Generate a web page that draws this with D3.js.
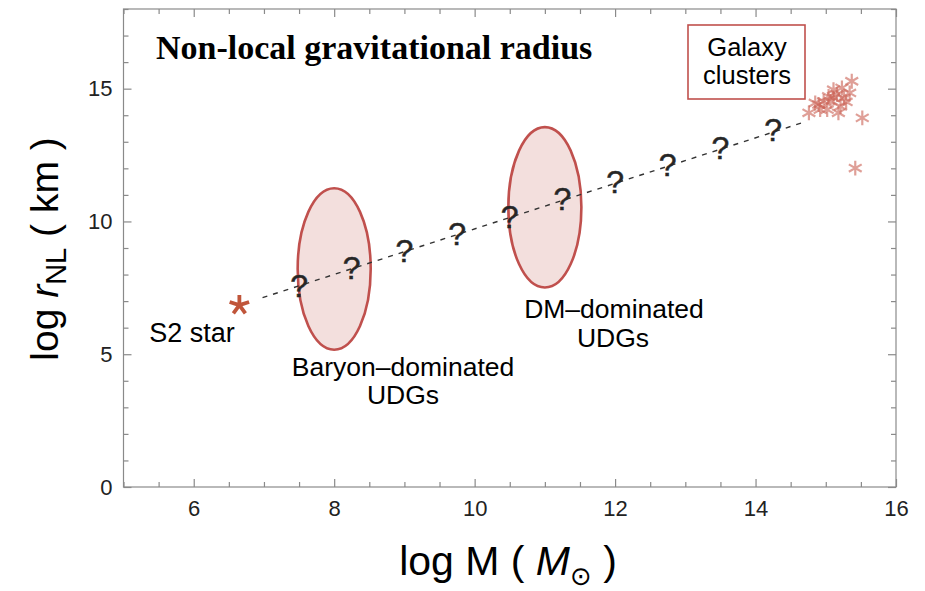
<!DOCTYPE html>
<html><head><meta charset="utf-8">
<script src="https://cdn.jsdelivr.net/npm/d3@7"></script>
<style>body{margin:0;background:#fff;} svg{display:block;}</style>
</head><body>
<svg id="chart" width="925" height="591"></svg>
<script>
// ---------- data ----------
const xTickValues = [6, 8, 10, 12, 14, 16];
const yTickValues = [0, 5, 10, 15];
const xDomain = [5, 16];
const yDomain = [0, 18];

const s2Mass = [6.65];
const s2Radius = [6.85];

const udgMass   = [7.5, 8.25, 9.0, 9.75, 10.5, 11.25, 12.0, 12.75, 13.5, 14.25];
const udgRadius = [7.6, 8.25, 8.9, 9.55, 10.2, 10.85, 11.5, 12.15, 12.8, 13.45];

const trendMass   = [6.98, 14.69];
const trendRadius = [7.13, 13.74];

const clusterMass   = [15.37, 15.34, 15.23, 15.16, 15.11, 15.04, 15.07, 14.97, 14.90, 14.85, 14.92, 15.02, 15.18, 15.21, 14.76, 15.52, 15.42, 15.26, 15.11, 15.29];
const clusterRadius = [15.28, 14.84, 15.03, 14.78, 14.65, 14.71, 14.52, 14.52, 14.40, 14.46, 14.21, 14.21, 14.09, 14.33, 14.09, 13.90, 12.01, 14.65, 14.96, 14.50];

const regionNames = ["Baryon-dominated UDGs", "DM-dominated UDGs"];
const regionMassRange   = [[7.48, 8.52], [10.48, 11.52]];
const regionRadiusRange = [[5.17, 11.25], [7.51, 13.55]];

// ---------- setup ----------
const svg = d3.select("#chart");
const L = 123.5, R = 896, T = 9, B = 487;
const x = d3.scaleLinear().domain(xDomain).range([L, R]);
const y = d3.scaleLinear().domain(yDomain).range([B, T]);
const sans = "'Liberation Sans', Arial, Helvetica, 'DejaVu Sans', sans-serif";
const frameColor = "#8a8a8a";
const red = "#c0504d";

// ---------- regions (ellipses) ----------
svg.append("g").selectAll("ellipse")
  .data(regionNames.map((n, i) => ({n, mx: regionMassRange[i], ry: regionRadiusRange[i]})))
  .join("ellipse")
  .attr("cx", d => x((d.mx[0] + d.mx[1]) / 2))
  .attr("cy", d => y((d.ry[0] + d.ry[1]) / 2))
  .attr("rx", d => (x(d.mx[1]) - x(d.mx[0])) / 2)
  .attr("ry", d => (y(d.ry[0]) - y(d.ry[1])) / 2)
  .attr("fill", "#f3dfdd")
  .attr("stroke", red)
  .attr("stroke-width", 2.6);

// ---------- dashed trend line ----------
const line = d3.line().x(d => x(d[0])).y(d => y(d[1]));
svg.append("path")
  .datum(trendMass.map((m, i) => [m, trendRadius[i]]))
  .attr("d", line)
  .attr("fill", "none")
  .attr("stroke", "#333")
  .attr("stroke-width", 1.4)
  .attr("stroke-dasharray", "5,6");

// ---------- question marks ----------
const qfs = 32;
svg.append("g").selectAll("text")
  .data(udgMass.map((m, i) => [m, udgRadius[i]]))
  .join("text")
  .attr("x", d => x(d[0]))
  .attr("y", d => y(d[1]) + qfs * 0.36)
  .attr("text-anchor", "middle")
  .attr("font-family", sans)
  .attr("font-size", qfs)
  .attr("fill", "#262626")
  .attr("stroke", "#262626")
  .attr("stroke-width", 0.5)
  .text("?");

// ---------- galaxy clusters ----------
const ast = d3.symbol().type(d3.symbolAsterisk).size(155);
svg.append("g").selectAll("path")
  .data(clusterMass.map((m, i) => [m, clusterRadius[i]]))
  .join("path")
  .attr("transform", d => `translate(${x(d[0])},${y(d[1])})`)
  .attr("d", ast)
  .attr("fill", "none")
  .attr("stroke", "#cc6457")
  .attr("stroke-opacity", 0.62)
  .attr("stroke-width", 2.2);

// ---------- S2 star (5-armed asterisk) ----------
const star5 = {
  draw(ctx, size) {
    const r = Math.sqrt(size) * 0.6;
    for (let k = 0; k < 5; k++) {
      const a = -Math.PI / 2 + k * 2 * Math.PI / 5;
      ctx.moveTo(0, 0);
      ctx.lineTo(r * Math.cos(a), r * Math.sin(a));
    }
  }
};
svg.append("g").selectAll("path")
  .data(s2Mass.map((m, i) => [m, s2Radius[i]]))
  .join("path")
  .attr("transform", d => `translate(${x(d[0])},${y(d[1])})`)
  .attr("d", d3.symbol().type(star5).size(290))
  .attr("fill", "none")
  .attr("stroke", "#c0553a")
  .attr("stroke-width", 3.8)
  .attr("stroke-linecap", "butt");

// ---------- frame & axes ----------
svg.append("rect")
  .attr("x", L).attr("y", T).attr("width", R - L).attr("height", B - T)
  .attr("fill", "none").attr("stroke", frameColor).attr("stroke-width", 1.2);

const xMinor = d3.range(5, 16.001, 0.5).filter(v => !xTickValues.includes(v));
const yMinor = d3.range(0, 18.001, 1).filter(v => !yTickValues.includes(v));

function styleAxis(g) {
  g.select(".domain").remove();
  g.selectAll(".tick line").attr("stroke", frameColor).attr("stroke-width", 1.2);
  g.selectAll(".tick text").attr("font-family", sans).attr("font-size", 22).attr("fill", "#222");
}
// bottom
svg.append("g").attr("transform", `translate(0,${B})`)
  .call(d3.axisBottom(x).tickValues(xTickValues).tickSize(-8).tickPadding(13).tickFormat(d3.format("d")))
  .call(styleAxis);
svg.append("g").attr("transform", `translate(0,${B})`)
  .call(d3.axisBottom(x).tickValues(xMinor).tickSize(-5).tickFormat(""))
  .call(styleAxis);
// top
svg.append("g").attr("transform", `translate(0,${T})`)
  .call(d3.axisTop(x).tickValues(xTickValues).tickSize(-8).tickFormat(""))
  .call(styleAxis);
svg.append("g").attr("transform", `translate(0,${T})`)
  .call(d3.axisTop(x).tickValues(xMinor).tickSize(-5).tickFormat(""))
  .call(styleAxis);
// left
svg.append("g").attr("transform", `translate(${L},0)`)
  .call(d3.axisLeft(y).tickValues(yTickValues).tickSize(-8).tickPadding(11).tickFormat(d3.format("d")))
  .call(styleAxis);
svg.append("g").attr("transform", `translate(${L},0)`)
  .call(d3.axisLeft(y).tickValues(yMinor).tickSize(-5).tickFormat(""))
  .call(styleAxis);
// right
svg.append("g").attr("transform", `translate(${R},0)`)
  .call(d3.axisRight(y).tickValues(yTickValues).tickSize(-8).tickFormat(""))
  .call(styleAxis);
svg.append("g").attr("transform", `translate(${R},0)`)
  .call(d3.axisRight(y).tickValues(yMinor).tickSize(-5).tickFormat(""))
  .call(styleAxis);

// ---------- axis titles ----------
const xl = svg.append("text")
  .attr("x", 508).attr("y", 575)
  .attr("text-anchor", "middle")
  .attr("font-family", sans).attr("font-size", 41).attr("fill", "#000");
xl.append("tspan").text("log M ( ");
xl.append("tspan").attr("font-style", "italic").text("M");
xl.append("tspan").attr("font-size", 26).attr("dy", 10).text("\u2299");
xl.append("tspan").attr("dy", -10).text(" )");

const yl = svg.append("text")
  .attr("transform", "translate(58,249) rotate(-90)")
  .attr("text-anchor", "middle")
  .attr("font-family", sans).attr("font-size", 39).attr("fill", "#000");
yl.append("tspan").text("log ");
yl.append("tspan").attr("font-style", "italic").text("r");
yl.append("tspan").attr("font-size", 29).attr("dy", 8).text("NL");
yl.append("tspan").attr("dy", -8).text(" ( km )");

// ---------- title ----------
svg.append("text")
  .attr("x", 156).attr("y", 59)
  .attr("font-family", "'Palatino Linotype', 'Book Antiqua', 'Liberation Serif', 'Times New Roman', serif")
  .attr("font-weight", "bold").attr("font-size", 34).attr("fill", "#000")
  .text("Non-local gravitational radius");

// ---------- annotations ----------
svg.append("rect")
  .attr("x", 688).attr("y", 25).attr("width", 117).attr("height", 74)
  .attr("fill", "#fff").attr("stroke", red).attr("stroke-width", 1.6);

const ann = svg.append("g").attr("font-family", sans).attr("fill", "#000").attr("text-anchor", "middle");
ann.append("text").attr("x", 192).attr("y", 342).attr("font-size", 27).text("S2 star");
ann.append("text").attr("x", 403).attr("y", 375.5).attr("font-size", 26.5).text("Baryon\u2013dominated");
ann.append("text").attr("x", 403).attr("y", 404).attr("font-size", 26.5).text("UDGs");
ann.append("text").attr("x", 614).attr("y", 318).attr("font-size", 26.5).text("DM\u2013dominated");
ann.append("text").attr("x", 613).attr("y", 346.5).attr("font-size", 26.5).text("UDGs");
ann.append("text").attr("x", 747).attr("y", 56).attr("font-size", 25.5).text("Galaxy");
ann.append("text").attr("x", 747).attr("y", 84).attr("font-size", 25.5).text("clusters");
</script>
</body></html>
